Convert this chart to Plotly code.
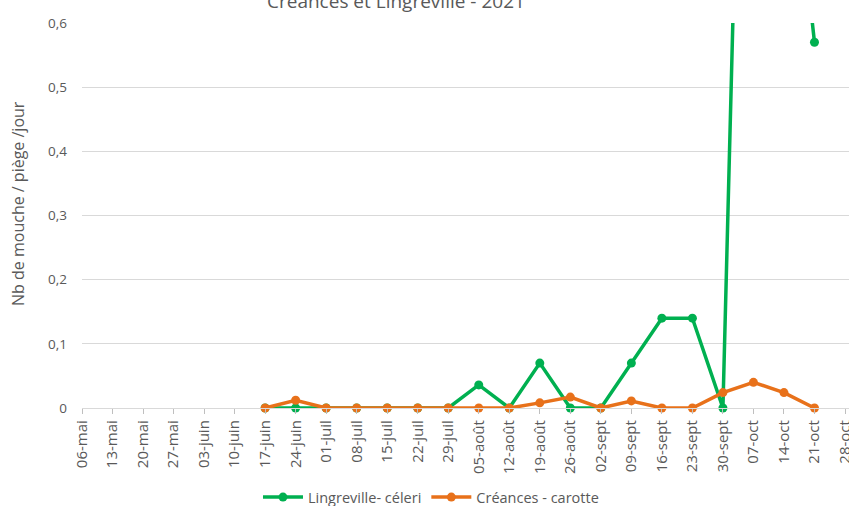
import plotly.graph_objects as go

# Axis tick labels (weekly dates, 2021)
tick_dates = ["2021-05-06", "2021-05-13", "2021-05-20", "2021-05-27", "2021-06-03", "2021-06-10",
              "2021-06-17", "2021-06-24", "2021-07-01", "2021-07-08", "2021-07-15", "2021-07-22",
              "2021-07-29", "2021-08-05", "2021-08-12", "2021-08-19", "2021-08-26", "2021-09-02",
              "2021-09-09", "2021-09-16", "2021-09-23", "2021-09-30", "2021-10-07", "2021-10-14",
              "2021-10-21", "2021-10-28"]
tick_labels = ["06-mai", "13-mai", "20-mai", "27-mai", "03-juin", "10-juin", "17-juin", "24-juin",
               "01-juil", "08-juil", "15-juil", "22-juil", "29-juil", "05-août", "12-août", "19-août",
               "26-août", "02-sept", "09-sept", "16-sept", "23-sept", "30-sept", "07-oct", "14-oct",
               "21-oct", "28-oct"]

# Observation dates
obs_dates = ["2021-06-17", "2021-06-24", "2021-07-01", "2021-07-08", "2021-07-15", "2021-07-22",
             "2021-07-29", "2021-08-05", "2021-08-12", "2021-08-19", "2021-08-26", "2021-09-02",
             "2021-09-09", "2021-09-16", "2021-09-23", "2021-09-30", "2021-10-07", "2021-10-14",
             "2021-10-21"]

lingreville_celeri = [0, 0, 0, 0, 0, 0, 0, 0.036, 0, 0.07, 0, 0, 0.07, 0.14, 0.14, 0, 1.85, 1.0, 0.57]
creances_carotte = [0, 0.012, 0, 0, 0, 0, 0, 0, 0, 0.008, 0.017, 0, 0.011, 0, 0, 0.024, 0.04, 0.024, 0]

y_ticks = [0, 0.1, 0.2, 0.3, 0.4, 0.5, 0.6]
y_labels = ["0", "0,1", "0,2", "0,3", "0,4", "0,5", "0,6"]

GREEN = "#00B050"
ORANGE = "#E8711A"
GREY = "#595959"
FONT = "Open Sans"

fig = go.Figure()
fig.add_trace(go.Scatter(
    x=obs_dates, y=lingreville_celeri, name="Lingreville- céleri",
    mode="lines+markers", line=dict(color=GREEN, width=3.5),
    marker=dict(color=GREEN, size=9), cliponaxis=False))
fig.add_trace(go.Scatter(
    x=obs_dates, y=creances_carotte, name="Créances - carotte",
    mode="lines+markers", line=dict(color=ORANGE, width=3.5),
    marker=dict(color=ORANGE, size=9), cliponaxis=False))

fig.update_layout(
    width=849, height=506,
    margin=dict(l=82, r=0, t=23, b=98, autoexpand=False),
    paper_bgcolor="white", plot_bgcolor="white",
    font=dict(family=FONT, color=GREY, size=12),
    showlegend=True,
    legend=dict(orientation="h", x=0.455, xanchor="center", y=-0.19, yanchor="top",
                font=dict(size=14.5, color=GREY), itemwidth=40),
    annotations=[
        dict(text="Créances et Lingreville - 2021", xref="paper", yref="paper",
             x=0.41, y=1, xanchor="center", yanchor="bottom", yshift=7,
             showarrow=False, font=dict(size=19, color=GREY)),
        dict(text="Nb de mouche / piège /jour", xref="paper", yref="paper",
             x=0, y=0.53, xshift=-64, xanchor="center", yanchor="middle",
             textangle=-90, showarrow=False, font=dict(size=16, color=GREY)),
    ],
)

fig.update_xaxes(
    type="date", range=["2021-05-06", "2021-10-28 22:00"], automargin=False,
    tickmode="array", tickvals=tick_dates, ticktext=tick_labels,
    tickangle=-90, tickfont=dict(size=15, color=GREY), ticklabeloverflow="allow",
    showgrid=False, showline=True, linecolor="#D9D9D9", linewidth=1.3,
    ticks="outside", ticklen=5, tickcolor="#BFBFBF", zeroline=False)

fig.update_yaxes(
    range=[0, 0.6], automargin=False, tickmode="array", tickvals=y_ticks, ticktext=y_labels,
    tickfont=dict(size=13.5, color=GREY), showgrid=True, gridcolor="#D9D9D9",
    gridwidth=1.3, zeroline=False, showline=False, ticks="", ticklabelstandoff=14)

fig.write_html("out.html", config={"displayModeBar": False},
               post_script="document.body.style.margin='0';")
